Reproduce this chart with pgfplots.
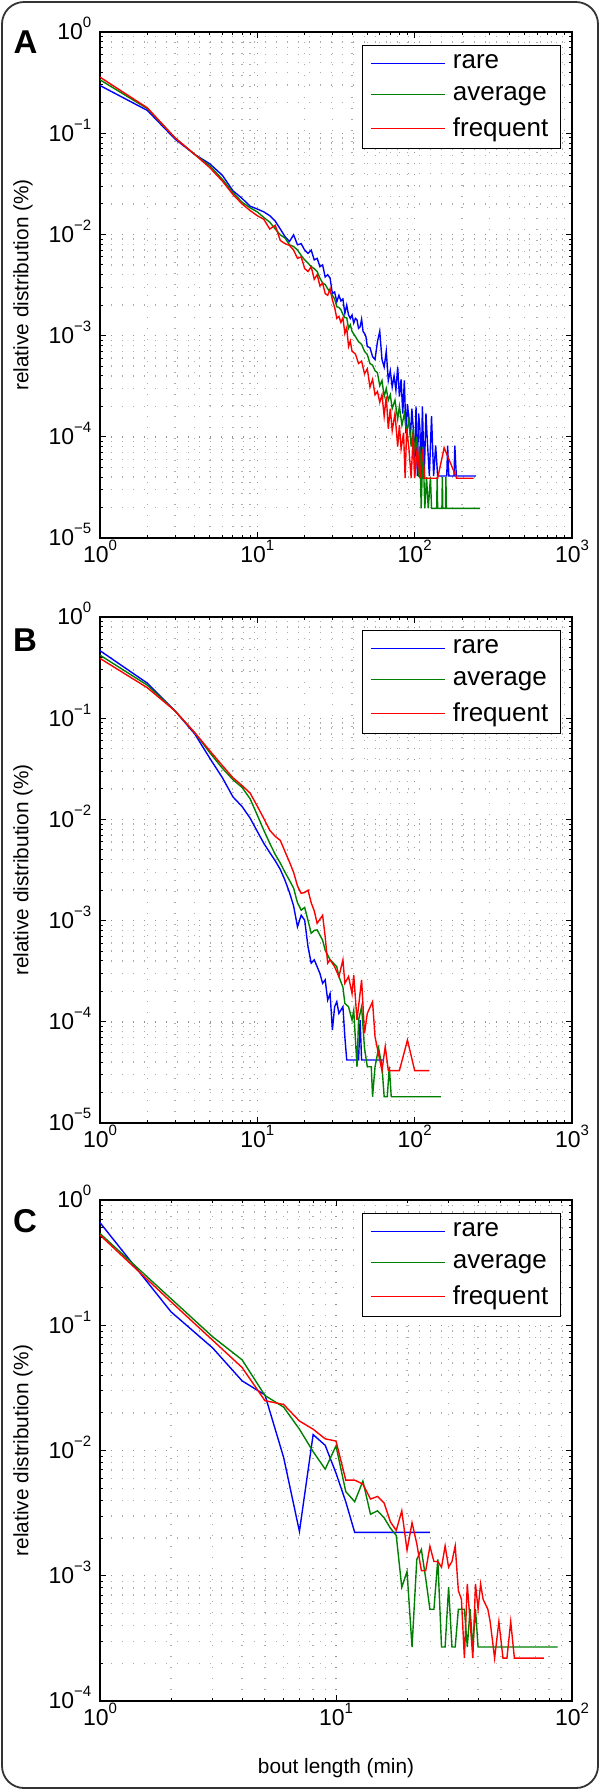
\documentclass[border=0pt]{standalone}
\usepackage{fontspec}
\setmainfont{Liberation Sans}
\usepackage{pgfplots}
\pgfplotsset{compat=1.18}

\definecolor{mblue}{rgb}{0,0,1}
\definecolor{mgreen}{rgb}{0,0.5,0}
\definecolor{mred}{rgb}{1,0,0}
\newcommand{\tp}[1]{10\raisebox{6pt}{\fontsize{7.5}{8}\selectfont #1}}

\pgfplotsset{
    scale only axis, width=236pt,
    axis line style={line width=0.7pt},
    tick style={black, line width=0.5pt},
    tick align=inside, xtick pos=both, ytick pos=both,
    major tick length=3pt, minor tick length=1.6pt,
    grid=both,
    major grid style={line width=0.7pt, dash pattern=on 0.7pt off 4.8pt, black!42},
    minor grid style={line width=0.7pt, dash pattern=on 0.7pt off 4.8pt, black!32},
    tick label style={font=\fontsize{11.5}{13}\selectfont},
    yticklabel style={inner xsep=0pt, xshift=-4.2pt, yshift=1.6pt},
    xticklabel style={inner ysep=0pt, yshift=-1pt},
    label style={font=\fontsize{10.4}{12}\selectfont},
    ylabel style={at={(axis description cs:-0.163,0.5)}, anchor=center},
    legend style={at={(1,1)}, anchor=north east, xshift=-5.5pt, yshift=-6.5pt,
      draw=black, line width=0.7pt, fill=white,
      font=\fontsize{13}{15}\selectfont,
      inner xsep=4pt, inner ysep=4pt, row sep=6.25pt, column sep=1.5pt,
      nodes={inner xsep=2pt, inner ysep=0.5pt}},
    legend cell align=left,
    legend image code/.code={\draw[#1] (0pt,0pt) -- (37pt,0pt);},
    every axis plot/.append style={line width=0.7pt},
}

\begin{document}
\begin{tikzpicture}
\useasboundingbox (0,0) rectangle (300pt,-895pt);
\draw[line width=0.9pt, black!80, rounded corners=11pt] (1pt,-1pt) rectangle (299pt,-894pt);

% ---------------- Panel A ----------------
\begin{axis}[xmode=log, ymode=log, at={(50pt,-16pt)}, anchor=north west, height=253pt,
    xmin=1, xmax=1000,
    xtick={1,10,100,1000},
    xticklabels={\tp{0},\tp{1},\tp{2},\tp{3}},
    minor xtick={2,3,4,5,6,7,8,9,20,30,40,50,60,70,80,90,200,300,400,500,600,700,800,900},
    ymin=1e-5, ymax=1,
    ytick={1e-5,1e-4,1e-3,1e-2,1e-1,1},
    yticklabels={\tp{−5},\tp{−4},\tp{−3},\tp{−2},\tp{−1},\tp{0}},
    minor ytick={2e-5,3e-5,4e-5,5e-5,6e-5,7e-5,8e-5,9e-5,2e-4,3e-4,4e-4,5e-4,6e-4,7e-4,8e-4,9e-4,2e-3,3e-3,4e-3,5e-3,6e-3,7e-3,8e-3,9e-3,0.02,0.03,0.04,0.05,0.06,0.07,0.08,0.09,0.2,0.3,0.4,0.5,0.6,0.7,0.8,0.9},
    ylabel={relative distribution (\%)}]
\addplot[mblue] coordinates {(1,0.296)(2,0.168)(3,0.0875)(4,0.0617)(5,0.0497)(6,0.0383)(7,0.027)(8,0.0227)(9,0.019)(10,0.0178)(11,0.0167)(12,0.0153)(13,0.0135)(14,0.0113)(15,0.0095)(16,0.0085)(17,0.0099)(18,0.0079)(19,0.0081)(20,0.0070)(21,0.0065)(22,0.0070)(23,0.0056)(24,0.0058)(25,0.0048)(26,0.0050)(27,0.0038)(28,0.0040)(29,0.0037)(30,0.0026)(31,0.0027)(32,0.00216)(33,0.0025)(34,0.0022)(35,0.0023)(36,0.00166)(37,0.0020)(38,0.0016)(39,0.00148)(40,0.0016)(41,0.00133)(42,0.00148)(43,0.00143)(44,0.00118)(45,0.00122)(46,0.00145)(47,0.0011)(48,0.00105)(49,0.00098)(50,0.00078)(52,0.00076)(54,0.00062)(56,0.00058)(58,0.00087)(60,0.0011)(62,0.00058)(64,0.00049)(66,0.0007)(68,0.00036)(70,0.00045)(72,0.00031)(74,0.0004)(76,0.00029)(78,0.00049)(80,0.00025)(82,0.00037)(84,0.00017)(86,0.00036)(88,0.000108)(90,0.00021)(92,0.00015)(94,0.0001)(96,0.00019)(98,0.00012)(100,0.000041)(102,0.0002)(104,0.000041)(106,0.00017)(108,0.00012)(110,0.000041)(112,0.0002)(115,0.000041)(118,0.00017)(120,0.0001)(124,0.000041)(128,0.00016)(132,0.000041)(136,0.000082)(140,0.000041)(160,0.000041)(162,0.000082)(165,0.000041)(178,0.000041)(180,0.000082)(184,0.000041)(245,0.000041)};
\addlegendentry{rare}
\addplot[mgreen] coordinates {(1,0.337)(2,0.175)(3,0.09)(4,0.0617)(5,0.0475)(6,0.035)(7,0.0259)(8,0.0208)(9,0.0183)(10,0.0167)(11,0.0147)(12,0.0132)(13,0.0113)(14,0.0099)(15,0.0092)(16,0.0079)(17,0.0076)(18,0.0070)(19,0.0062)(20,0.0056)(21,0.0052)(22,0.0048)(23,0.0046)(24,0.0043)(25,0.0037)(26,0.0033)(27,0.0032)(28,0.0029)(29,0.0027)(30,0.0025)(31,0.0023)(32,0.00193)(33,0.0019)(34,0.0018)(35,0.00162)(36,0.0015)(37,0.0015)(38,0.00118)(39,0.00128)(40,0.0011)(42,0.00098)(44,0.00087)(46,0.00082)(48,0.0007)(50,0.00065)(52,0.00053)(54,0.00051)(56,0.00045)(58,0.00043)(60,0.00032)(62,0.00036)(64,0.00025)(66,0.0003)(68,0.00023)(70,0.00026)(72,0.00019)(75,0.00023)(78,0.00015)(80,0.0002)(83,0.00013)(86,0.00017)(89,0.000108)(92,0.00015)(95,0.00008)(98,0.00012)(100,0.00007)(103,0.0001)(106,0.00004)(108,0.00008)(110,0.0000196)(113,0.00008)(116,0.0000196)(119,0.00004)(122,0.0000196)(126,0.00004)(128,0.0000196)(138,0.0000196)(139,0.00004)(140,0.0000196)(149,0.0000196)(150,0.00004)(151,0.0000196)(157,0.0000196)(158,0.00004)(159,0.0000196)(260,0.0000196)};
\addlegendentry{average}
\addplot[mred] coordinates {(1,0.358)(2,0.178)(3,0.09)(4,0.0617)(5,0.0455)(6,0.0336)(7,0.0248)(8,0.020)(9,0.0172)(10,0.0153)(11,0.0141)(12,0.0113)(13,0.0123)(14,0.0087)(15,0.0081)(16,0.0078)(17,0.0070)(18,0.0058)(19,0.006)(20,0.0046)(21,0.0043)(22,0.0048)(23,0.0036)(24,0.004)(25,0.0031)(26,0.0033)(27,0.0026)(28,0.0025)(29,0.0029)(30,0.00225)(31,0.0019)(32,0.00148)(33,0.00155)(34,0.00135)(35,0.0015)(36,0.00105)(37,0.0012)(38,0.00078)(39,0.00088)(40,0.0007)(42,0.00066)(44,0.00053)(46,0.00056)(48,0.00042)(50,0.00047)(52,0.00031)(54,0.00037)(56,0.00026)(58,0.00028)(60,0.00022)(62,0.00026)(64,0.00016)(66,0.00025)(68,0.00012)(70,0.00019)(72,0.000115)(75,0.00017)(78,0.00008)(80,0.00013)(82,0.000076)(85,0.00011)(87,0.000039)(89,0.00012)(92,0.000076)(95,0.000039)(98,0.00011)(100,0.000039)(104,0.00008)(108,0.000039)(112,0.000076)(116,0.000039)(140,0.000039)(154,0.000078)(185,0.000039)(237,0.000039)};
\addlegendentry{frequent}
\end{axis}

% ---------------- Panel B ----------------
\begin{axis}[xmode=log, ymode=log, at={(50pt,-308.5pt)}, anchor=north west, height=253pt,
    xmin=1, xmax=1000,
    xtick={1,10,100,1000},
    xticklabels={\tp{0},\tp{1},\tp{2},\tp{3}},
    minor xtick={2,3,4,5,6,7,8,9,20,30,40,50,60,70,80,90,200,300,400,500,600,700,800,900},
    ymin=1e-5, ymax=1,
    ytick={1e-5,1e-4,1e-3,1e-2,1e-1,1},
    yticklabels={\tp{−5},\tp{−4},\tp{−3},\tp{−2},\tp{−1},\tp{0}},
    minor ytick={2e-5,3e-5,4e-5,5e-5,6e-5,7e-5,8e-5,9e-5,2e-4,3e-4,4e-4,5e-4,6e-4,7e-4,8e-4,9e-4,2e-3,3e-3,4e-3,5e-3,6e-3,7e-3,8e-3,9e-3,0.02,0.03,0.04,0.05,0.06,0.07,0.08,0.09,0.2,0.3,0.4,0.5,0.6,0.7,0.8,0.9},
    ylabel={relative distribution (\%)}]
\addplot[mblue] coordinates {(1,0.465)(2,0.222)(3,0.118)(4,0.070)(5,0.040)(6,0.0258)(7,0.0167)(8,0.0134)(9,0.0103)(10,0.0076)(11,0.0058)(12,0.0047)(13,0.0039)(14,0.0032)(15,0.0025)(16,0.0019)(17,0.0014)(18,0.00087)(19,0.00113)(20,0.00101)(21,0.00055)(22,0.00038)(23,0.00041)(24,0.00035)(25,0.0003)(26,0.00024)(27,0.00026)(28,0.000164)(29,0.00019)(30,0.000083)(31,0.000141)(32,0.000158)(33,0.000121)(35,0.000141)(36,0.000071)(37,0.000042)(44,0.000042)(45,0.000104)(46,0.000042)(63,0.000042)};
\addlegendentry{rare}
\addplot[mgreen] coordinates {(1,0.42)(2,0.212)(3,0.118)(4,0.072)(5,0.0454)(6,0.032)(7,0.0247)(8,0.0207)(9,0.016)(10,0.011)(11,0.0078)(12,0.0058)(13,0.0045)(14,0.0037)(15,0.0030)(16,0.0025)(17,0.0021)(18,0.0015)(19,0.00127)(20,0.00135)(21,0.001)(22,0.00075)(23,0.0008)(24,0.00081)(26,0.00064)(27,0.00051)(29,0.00041)(30,0.00039)(32,0.00035)(33,0.00028)(35,0.00022)(36,0.000152)(38,0.000141)(40,0.000104)(41,0.00013)(43,0.000036)(44,0.000104)(46,0.000141)(48,0.000055)(50,0.000036)(53,0.000036)(54,0.0000182)(56,0.000036)(59,0.000055)(62,0.000036)(64,0.0000182)(67,0.0000182)(69,0.000036)(71,0.0000182)(147,0.0000182)};
\addlegendentry{average}
\addplot[mred] coordinates {(1,0.39)(2,0.20)(3,0.118)(4,0.072)(5,0.0475)(6,0.034)(7,0.0258)(8,0.0216)(9,0.0182)(10,0.0135)(11,0.0102)(12,0.0078)(13,0.0068)(14,0.0062)(15,0.0048)(16,0.0038)(17,0.003)(18,0.0022)(19,0.00186)(20,0.0019)(21,0.002)(22,0.0015)(23,0.00125)(24,0.00094)(26,0.00113)(27,0.00069)(28,0.00038)(29,0.00041)(31,0.00035)(33,0.00028)(35,0.00041)(36,0.00024)(38,0.00028)(40,0.00019)(41,0.00029)(43,0.000104)(46,0.00026)(48,0.000077)(50,0.000121)(54,0.000158)(56,0.000071)(60,0.000042)(62,0.000033)(65,0.000057)(68,0.000033)(80,0.000033)(90,0.000066)(100,0.000033)(124,0.000033)};
\addlegendentry{frequent}
\end{axis}

% ---------------- Panel C ----------------
\begin{axis}[xmode=log, ymode=log, at={(50pt,-600pt)}, anchor=north west, height=250.5pt,
  xmin=1, xmax=100, ymin=1e-4, ymax=1,
  xtick={1,10,100},
  xticklabels={\tp{0},\tp{1},\tp{2}},
  minor xtick={2,3,4,5,6,7,8,9,20,30,40,50,60,70,80,90},
  ytick={1e-4,1e-3,1e-2,1e-1,1},
  yticklabels={\tp{−4},\tp{−3},\tp{−2},\tp{−1},\tp{0}},
  minor ytick={2e-4,3e-4,4e-4,5e-4,6e-4,7e-4,8e-4,9e-4,2e-3,3e-3,4e-3,5e-3,6e-3,7e-3,8e-3,9e-3,0.02,0.03,0.04,0.05,0.06,0.07,0.08,0.09,0.2,0.3,0.4,0.5,0.6,0.7,0.8,0.9},
  ylabel={relative distribution (\%)},
  xlabel={bout length (min)},
  xlabel style={at={(axis description cs:0.5,-0.134)}, anchor=center}]
\addplot[mblue] coordinates {(1,0.66)(2,0.128)(3,0.066)(4,0.036)(5,0.0278)(6,0.0088)(7,0.00226)(8,0.0134)(9,0.011)(10,0.0066)(11,0.0039)(12,0.00222)(25,0.00222)};
\addlegendentry{rare}
\addplot[mgreen] coordinates {(1,0.54)(2,0.163)(3,0.081)(4,0.053)(5,0.0275)(6,0.0222)(7,0.0148)(8,0.0098)(9,0.0071)(10,0.0109)(11,0.0047)(12,0.0039)(13,0.0057)(14,0.0031)(15,0.0033)(16,0.0029)(17,0.0024)(18,0.0021)(19,0.00081)(20,0.00108)(21,0.00027)(22,0.00135)(23,0.00162)(24,0.00095)(25,0.00054)(26,0.00054)(27,0.00135)(28,0.00027)(29,0.00027)(30,0.00081)(31,0.00027)(32,0.00027)(33,0.00054)(35,0.00054)(36,0.00027)(37,0.00054)(38,0.00027)(39,0.00054)(40,0.00027)(87,0.00027)};
\addlegendentry{average}
\addplot[mred] coordinates {(1,0.525)(2,0.154)(3,0.076)(4,0.046)(5,0.025)(6,0.0233)(7,0.0172)(8,0.0148)(9,0.0124)(10,0.0119)(11,0.0058)(12,0.0058)(13,0.0054)(14,0.0041)(15,0.0043)(16,0.0038)(17,0.0027)(18,0.0023)(19,0.0033)(20,0.0016)(21,0.00265)(22,0.0018)(23,0.0011)(24,0.0011)(25,0.00172)(26,0.0013)(27,0.0013)(28,0.00117)(29,0.00173)(30,0.00117)(31,0.0013)(32,0.00173)(33,0.00076)(34,0.00065)(35,0.00022)(36,0.00086)(37,0.00043)(38,0.00022)(39,0.00086)(40,0.00054)(41,0.00086)(42,0.00065)(44,0.00054)(45,0.00043)(47,0.00022)(49,0.00043)(51,0.00022)(53,0.00022)(55,0.00043)(57,0.00022)(76,0.00022)};
\addlegendentry{frequent}
\end{axis}

\node[font=\fontsize{16.5}{18}\selectfont\bfseries] at (12.75pt,-21.25pt) {A};
\node[font=\fontsize{16.5}{18}\selectfont\bfseries] at (12.5pt,-320.3pt) {B};
\node[font=\fontsize{16.5}{18}\selectfont\bfseries] at (12.5pt,-610.6pt) {C};
\end{tikzpicture}
\end{document}
